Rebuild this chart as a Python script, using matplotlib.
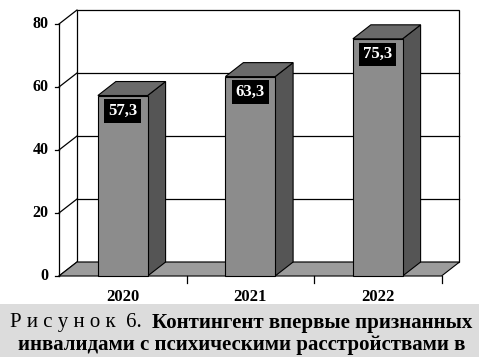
import matplotlib.pyplot as plt
from matplotlib.patches import Polygon, Rectangle

# data
years = ['2020', '2021', '2022']
values = [57.3, 63.3, 75.3]
value_labels = ['57,3', '63,3', '75,3']
y_ticks = [0, 20, 40, 60, 80]

caption_head = 'Р и с у н о к  6.'
caption_line1 = 'Контингент впервые признанных'
caption_line2 = 'инвалидами с психическими расстройствами в'

# pseudo-3D geometry (data units)
DX, DY = 0.141, 4.44
BAR_W = 0.39
SERIF = 'Liberation Serif'

FRONT = '#8c8c8c'
SIDE = '#555555'
TOP = '#6a6a6a'
FLOOR = '#9c9c9c'

fig = plt.figure(figsize=(4.79, 3.57), dpi=100)
ax = fig.add_axes([0, 0, 1, 1])
ax.set_xlim(-0.4627, 3.294)
ax.set_ylim(-25.71, 87.62)
ax.axis('off')

n = len(years)
ymax = y_ticks[-1]

# back wall with gridlines
ax.add_patch(Rectangle((DX, DY), n, ymax, facecolor='white',
                       edgecolor='black', linewidth=0.9, zorder=1))
for t in y_ticks[1:-1]:
    ax.plot([DX, n + DX], [t + DY, t + DY], color='black',
            linewidth=0.9, zorder=1.5)
# left side wall diagonals
for t in y_ticks:
    ax.plot([0, DX], [t, t + DY], color='black', linewidth=0.9,
            zorder=1.5)
# front value axis and ticks
ax.plot([0, 0], [0, ymax], color='black', linewidth=0.9, zorder=2)
for t in y_ticks:
    ax.plot([-0.03, 0], [t, t], color='black', linewidth=0.9, zorder=2)
    ax.text(-0.08, t, str(t), ha='right', va='center', fontsize=11.5,
            fontweight='bold', family=SERIF)

# floor
ax.add_patch(Polygon([(0, 0), (n, 0), (n + DX, DY), (DX, DY)],
                     closed=True, facecolor=FLOOR, edgecolor='black',
                     linewidth=0.8, zorder=2))
for k in range(1, n + 1):
    ax.plot([k, k], [0, -2.2], color='black', linewidth=0.9, zorder=2)

# bars
for i, (v, lab, yr) in enumerate(zip(values, value_labels, years)):
    c = i + 0.5
    x0, x1 = c - BAR_W / 2, c + BAR_W / 2
    ax.add_patch(Polygon([(x1, 0), (x1 + DX, DY), (x1 + DX, v + DY),
                          (x1, v)], closed=True, facecolor=SIDE,
                         edgecolor='black', linewidth=0.8, zorder=3))
    ax.add_patch(Polygon([(x0, v), (x1, v), (x1 + DX, v + DY),
                          (x0 + DX, v + DY)], closed=True, facecolor=TOP,
                         edgecolor='black', linewidth=0.8, zorder=3))
    ax.add_patch(Rectangle((x0, 0), BAR_W, v, facecolor=FRONT,
                           edgecolor='black', linewidth=0.8, zorder=4))
    ax.text(c, v - 4.9, lab, ha='center', va='center', color='white',
            fontsize=12, fontweight='bold', family=SERIF, zorder=5,
            bbox=dict(boxstyle='square,pad=0.22', facecolor='black',
                      edgecolor='none'))
    ax.text(c, -6.6, yr, ha='center', va='center', fontsize=12,
            fontweight='bold', family=SERIF)

# caption band
fig.add_artist(Rectangle((0, 0), 1, 53 / 357, transform=fig.transFigure,
                         facecolor='#dcdcdc', edgecolor='none', zorder=0))
fig.text(10 / 479, 1 - 323 / 357, caption_head, ha='left', va='center',
         fontsize=15, family=SERIF)
fig.text(472 / 479, 1 - 323 / 357, caption_line1, ha='right',
         va='center', fontsize=15, fontweight='bold', family=SERIF)
fig.text(242 / 479, 1 - 345 / 357, caption_line2, ha='center',
         va='center', fontsize=15, fontweight='bold', family=SERIF)

fig.savefig('out.png', dpi=100)
